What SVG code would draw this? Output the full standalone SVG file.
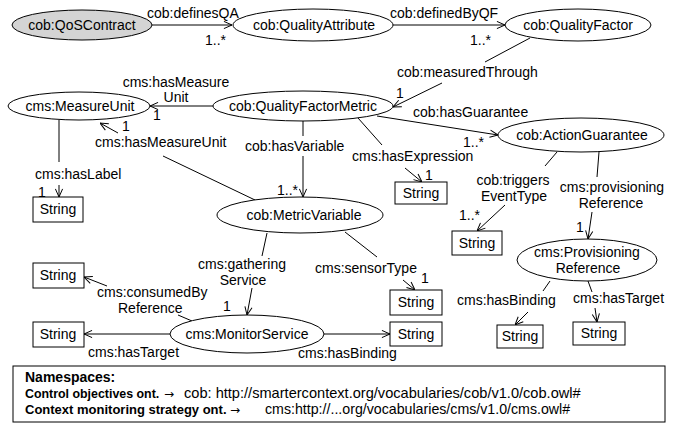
<svg xmlns="http://www.w3.org/2000/svg" width="676" height="424" viewBox="0 0 676 424">
<defs>
<style>
.n{fill:#fff;stroke:#000;stroke-width:1}
.g{fill:#d4d4d4;stroke:#000;stroke-width:1}
.t{font-family:"Liberation Sans",Arial,sans-serif;font-size:14px;fill:#000}
.c{text-anchor:middle}
.e{fill:none;stroke:#000;stroke-width:1}
.a{marker-end:url(#arr)}
.b{font-weight:bold}
.ar{font-family:"DejaVu Sans",sans-serif;font-size:12px}
</style>
<marker id="arr" viewBox="0 0 10 10" refX="10" refY="5" markerWidth="9" markerHeight="9" markerUnits="userSpaceOnUse" orient="auto">
<path d="M1,1 L10,5 L1,9" fill="none" stroke="#000" stroke-width="1.1"/>
</marker>
</defs>
<rect width="676" height="424" fill="#fff"/>

<g id="connectors">
<g id="e-definesQA"><line class="e a" x1="152" y1="25" x2="232" y2="25"/><text class="t" x="147" y="18">cob:definesQA</text><text class="t" x="205" y="45">1..*</text></g>
<g id="e-definedByQF"><line class="e a" x1="393" y1="25" x2="505" y2="25"/><text class="t" x="390" y="18">cob:definedByQF</text><text class="t" x="470" y="45">1..*</text></g>
<g id="e-measuredThrough"><line class="e" x1="530" y1="38" x2="485" y2="62"/><line class="e a" x1="442" y1="83" x2="393" y2="107"/><text class="t" x="397" y="77">cob:measuredThrough</text><text class="t" x="396" y="98">1</text></g>
<g id="e-hasMeasureUnit1"><line class="e a" x1="213" y1="106" x2="150" y2="106"/><text class="t c" x="176" y="87">cms:hasMeasure</text><text class="t c" x="176" y="102">Unit</text><text class="t" x="153" y="120">1</text></g>
<g id="e-hasGuarantee"><line class="e a" x1="377" y1="116" x2="498" y2="135"/><text class="t" x="413" y="117">cob:hasGuarantee</text><text class="t" x="463" y="147">1..*</text></g>
<g id="e-hasExpression"><line class="e" x1="358" y1="118" x2="382" y2="145"/><line class="e a" x1="405" y1="168" x2="422" y2="182"/><text class="t" x="352" y="161">cms:hasExpression</text><text class="t" x="425" y="180">1</text></g>
<g id="e-hasVariable"><line class="e" x1="303" y1="121" x2="303" y2="136"/><line class="e a" x1="303" y1="156" x2="303" y2="197"/><text class="t" x="245" y="151">cob:hasVariable</text><text class="t" x="277" y="195">1..*</text></g>
<g id="e-hasMeasureUnit2"><line class="e" x1="255" y1="200" x2="163" y2="156"/><line class="e a" x1="118" y1="133" x2="100" y2="123"/><text class="t" x="95" y="147">cms:hasMeasureUnit</text><text class="t" x="122" y="131">1</text></g>
<g id="e-hasLabel"><line class="e" x1="59" y1="120" x2="59" y2="162"/><line class="e a" x1="59" y1="185" x2="59" y2="197"/><text class="t" x="35" y="179">cms:hasLabel</text><text class="t" x="38" y="197">1</text></g>
<g id="e-triggersEventType"><line class="e" x1="557" y1="152" x2="545" y2="166"/><line class="e a" x1="505" y1="205" x2="477" y2="231"/><text class="t c" x="513" y="185">cob:triggers</text><text class="t c" x="514" y="201">EventType</text><text class="t" x="459" y="220">1..*</text></g>
<g id="e-provisioningReference"><line class="e" x1="599" y1="152" x2="597" y2="177"/><line class="e a" x1="592" y1="212" x2="588" y2="239"/><text class="t c" x="612" y="192">cms:provisioning</text><text class="t c" x="611" y="208">Reference</text><text class="t" x="576" y="232">1</text></g>
<g id="e-prHasBinding"><line class="e" x1="550" y1="281" x2="543" y2="291"/><line class="e a" x1="528" y1="312" x2="515" y2="325"/><text class="t" x="457" y="305">cms:hasBinding</text></g>
<g id="e-prHasTarget"><line class="e" x1="588" y1="281" x2="592" y2="292"/><line class="e a" x1="595" y1="308" x2="597" y2="322"/><text class="t" x="573" y="303">cms:hasTarget</text></g>
<g id="e-gatheringService"><line class="e" x1="267" y1="233" x2="262" y2="256"/><line class="e a" x1="252" y1="288" x2="247" y2="315"/><text class="t c" x="242" y="269">cms:gathering</text><text class="t c" x="243" y="285">Service</text><text class="t" x="223" y="311">1</text></g>
<g id="e-sensorType"><line class="e" x1="345" y1="232" x2="377" y2="257"/><line class="e a" x1="403" y1="280" x2="415" y2="290"/><text class="t" x="315" y="273">cms:sensorType</text><text class="t" x="421" y="283">1</text></g>
<g id="e-consumedByReference"><line class="e" x1="192" y1="321" x2="178" y2="315"/><line class="e a" x1="107" y1="286" x2="84" y2="277"/><text class="t" x="97" y="297">cms:consumedBy</text><text class="t" x="118" y="313">Reference</text></g>
<g id="e-msHasTarget"><line class="e a" x1="170" y1="334" x2="84" y2="334"/><text class="t" x="88" y="357">cms:hasTarget</text></g>
<g id="e-msHasBinding"><line class="e a" x1="324" y1="334" x2="390" y2="334"/><text class="t" x="298" y="358">cms:hasBinding</text></g>
</g>

<g id="QoSContract"><ellipse class="g" cx="82" cy="25" rx="70" ry="15"/><text class="t c" x="82" y="30">cob:QoSContract</text></g>
<g id="QualityAttribute"><ellipse class="n" cx="313" cy="25" rx="80" ry="16"/><text class="t c" x="314" y="30">cob:QualityAttribute</text></g>
<g id="QualityFactor"><ellipse class="n" cx="578" cy="25" rx="73" ry="16"/><text class="t c" x="578" y="30">cob:QualityFactor</text></g>
<g id="MeasureUnit"><ellipse class="n" cx="79" cy="106" rx="71" ry="14"/><text class="t c" x="80" y="111">cms:MeasureUnit</text></g>
<g id="QualityFactorMetric"><ellipse class="n" cx="303" cy="106" rx="90" ry="15"/><text class="t c" x="303" y="111">cob:QualityFactorMetric</text></g>
<g id="ActionGuarantee"><ellipse class="n" cx="581" cy="135" rx="83" ry="17"/><text class="t c" x="582" y="140">cob:ActionGuarantee</text></g>
<g id="MetricVariable"><ellipse class="n" cx="300" cy="215" rx="83" ry="18"/><text class="t c" x="304" y="220">cob:MetricVariable</text></g>
<g id="ProvisioningReference"><ellipse class="n" cx="587" cy="260" rx="70" ry="21"/><text class="t c" x="587" y="257">cms:Provisioning</text><text class="t c" x="588" y="273">Reference</text></g>
<g id="MonitorService"><ellipse class="n" cx="247" cy="334" rx="77" ry="19"/><text class="t c" x="247" y="339">cms:MonitorService</text></g>

<g id="String1"><rect class="n" x="33" y="197" width="50" height="25"/><text class="t c" x="58" y="214">String</text></g>
<g id="String2"><rect class="n" x="395" y="182" width="52" height="22"/><text class="t c" x="421" y="198">String</text></g>
<g id="String3"><rect class="n" x="452" y="231" width="50" height="24"/><text class="t c" x="477" y="248">String</text></g>
<g id="String4"><rect class="n" x="33" y="263" width="51" height="25"/><text class="t c" x="58" y="280">String</text></g>
<g id="String5"><rect class="n" x="33" y="322" width="51" height="25"/><text class="t c" x="58" y="339">String</text></g>
<g id="String6"><rect class="n" x="390" y="290" width="52" height="25"/><text class="t c" x="416" y="307">String</text></g>
<g id="String7"><rect class="n" x="390" y="322" width="52" height="24"/><text class="t c" x="416" y="339">String</text></g>
<g id="String8"><rect class="n" x="497" y="325" width="46" height="23"/><text class="t c" x="520" y="341">String</text></g>
<g id="String9"><rect class="n" x="573" y="322" width="52" height="23"/><text class="t c" x="599" y="338">String</text></g>

<g id="Namespaces">
<rect class="n" x="13" y="366" width="652" height="56"/>
<text class="t b" x="25" y="382">Namespaces:</text>
<text class="t" y="398"><tspan class="b" x="25" style="font-size:12.4px">Control objectives ont.</tspan><tspan class="ar" x="164">→</tspan><tspan x="184" style="font-size:14.6px">cob: http://smartercontext.org/vocabularies/cob/v1.0/cob.owl#</tspan></text>
<text class="t" y="414"><tspan class="b" x="25" style="font-size:13px">Context monitoring strategy ont.</tspan><tspan class="ar" x="230">→</tspan><tspan x="265" style="font-size:14.2px">cms:http://...org/vocabularies/cms/v1.0/cms.owl#</tspan></text>
</g>
</svg>
